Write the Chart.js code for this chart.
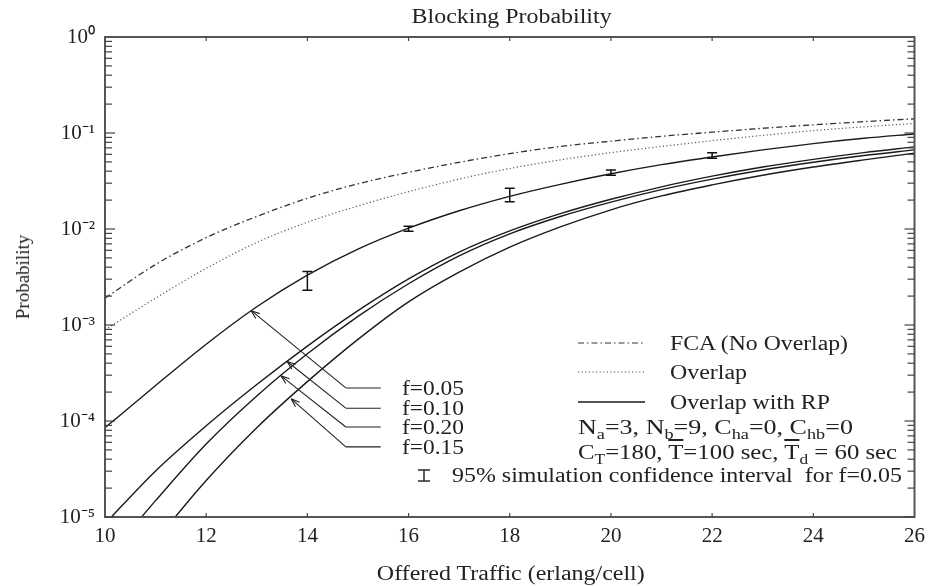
<!DOCTYPE html>
<html>
<head>
<meta charset="utf-8">
<script src="https://cdn.jsdelivr.net/npm/chart.js@4.4.1/dist/chart.umd.min.js"></script>
<style>
  body { margin: 0; background: #fff; }
  #wrap { position: relative; width: 932px; height: 586px; font-family: "Liberation Serif", "Times New Roman", serif; color: #222; }
  .t { position: absolute; white-space: nowrap; font-size: 20px; line-height: 20px; transform-origin: left center; }
  .c { position: absolute; width: 600px; text-align: center; font-size: 20px; line-height: 20px; }
  .c span { display: inline-block; white-space: nowrap; transform-origin: center center; }
  sub { font-size: 14px; line-height: 0; vertical-align: -5px; }
  .ov { text-decoration: overline; }
  #ytitle { position: absolute; left: 23px; top: 277px; font-size: 19px; white-space: nowrap; transform: translate(-50%, -50%) rotate(-90deg); }
</style>
</head>
<body>
<div id="wrap">
  <canvas id="chart" width="932" height="586"></canvas>

  <div class="c" style="left:212px; top:6px;"><span data-w="200">Blocking Probability</span></div>
  <div class="c" style="left:211px; top:563px;"><span data-w="268">Offered Traffic (erlang/cell)</span></div>
  <div id="ytitle">Probability</div>

  <div class="t" style="left:670px; top:333px;" data-w="178">FCA (No Overlap)</div>
  <div class="t" style="left:670px; top:362px;" data-w="77">Overlap</div>
  <div class="t" style="left:670px; top:392px;" data-w="160">Overlap with RP</div>

  <div class="t" style="left:578px; top:417px;" data-w="275">N<sub>a</sub>=3, N<sub>b</sub>=9, C<sub>ha</sub>=0, C<sub>hb</sub>=0</div>
  <div class="t" style="left:578px; top:442px;" data-w="319">C<sub>T</sub>=180, <span class="ov">T</span>=100 sec, <span class="ov">T</span><sub>d</sub> = 60 sec</div>
  <div class="t" style="left:452px; top:465px;" data-w="450">95% simulation confidence interval&nbsp; for f=0.05</div>

  <div class="t" style="left:402px; top:378px;" data-w="62">f=0.05</div>
  <div class="t" style="left:402px; top:398px;" data-w="62">f=0.10</div>
  <div class="t" style="left:402px; top:417px;" data-w="62">f=0.20</div>
  <div class="t" style="left:402px; top:437px;" data-w="62">f=0.15</div>
</div>

<script>
// offered traffic (erlang/cell)
const traffic = [10, 11, 12, 13, 14, 15, 16, 17, 18, 19, 20, 21, 22, 23, 24, 25, 26];

const fcaNoOverlap = [1.905e-3, 4.27e-3, 8.13e-3, 1.35e-2, 2.09e-2, 2.95e-2, 3.89e-2, 4.95e-2, 6.10e-2, 7.24e-2, 8.22e-2, 9.23e-2, 0.102, 0.112, 0.1216, 0.1312, 0.1406];
const overlap = [8.91e-4, 1.905e-3, 3.89e-3, 7.24e-3, 1.175e-2, 1.74e-2, 2.45e-2, 3.31e-2, 4.27e-2, 5.25e-2, 6.24e-2, 7.24e-2, 8.32e-2, 9.44e-2, 0.106, 0.116, 0.126];

// overlap with RP, one curve per f
const rpF005 = [8.5e-5, 2.34e-4, 6.31e-4, 1.55e-3, 3.31e-3, 6.17e-3, 1.02e-2, 1.55e-2, 2.19e-2, 2.92e-2, 3.76e-2, 4.68e-2, 5.62e-2, 6.68e-2, 7.76e-2, 8.81e-2, 9.77e-2];
const rpF010 = [8.51e-6, 3.02e-5, 8.91e-5, 2.40e-4, 6.03e-4, 1.41e-3, 3.02e-3, 5.75e-3, 9.55e-3, 1.445e-2, 2.04e-2, 2.75e-2, 3.55e-2, 4.42e-2, 5.31e-2, 6.24e-2, 7.16e-2];
const rpF020 = [3.55e-6, 1.48e-5, 5.75e-5, 1.82e-4, 5.01e-4, 1.23e-3, 2.69e-3, 5.25e-3, 8.91e-3, 1.35e-2, 1.905e-2, 2.57e-2, 3.31e-2, 4.12e-2, 4.95e-2, 5.82e-2, 6.68e-2];
const rpF015 = [1.20e-6, 5.62e-6, 2.40e-5, 8.51e-5, 2.57e-4, 7.08e-4, 1.74e-3, 3.55e-3, 6.46e-3, 1.05e-2, 1.585e-2, 2.21e-2, 2.88e-2, 3.63e-2, 4.42e-2, 5.25e-2, 6.17e-2];

// 95% simulation confidence intervals for f=0.05
const ciTraffic = [14, 16, 18, 20, 22];
const ciLow = [2.3e-3, 9.5e-3, 1.92e-2, 3.63e-2, 5.45e-2];
const ciHigh = [3.6e-3, 1.07e-2, 2.65e-2, 4.12e-2, 6.24e-2];

// f labels: arrow tips sit on the curves, elbows at the label lines
const arrowTipX = [12.89, 13.6, 13.48, 13.68];
const arrowTipY = [1.41e-3, 4.17e-4, 2.95e-4, 1.70e-4];
const elbowX = 14.76;
const labelLineEndX = 15.45;
const labelY = [2.21e-4, 1.36e-4, 8.66e-5, 5.37e-5];

const xTickValues = [10, 12, 14, 16, 18, 20, 22, 24, 26];
const yTickValues = [1e-5, 1e-4, 1e-3, 1e-2, 1e-1, 1];

const sup = { '0': '\u2070', '1': '\u00b9', '2': '\u00b2', '3': '\u00b3', '4': '\u2074', '5': '\u2075', '-': '\u207b' };
const toSup = s => String(s).split('').map(c => sup[c]).join('');

const pts = arr => traffic.map((t, i) => ({ x: t, y: arr[i] }));

const ciPoints = ciTraffic.flatMap((t, i) => [{ x: t, y: ciLow[i] }, { x: t, y: ciHigh[i] }, { x: t, y: null }]);

const DASHDOT = [6, 3, 1.5, 3];
const DOTTED = [1.2, 2.4];

function solid(data) {
    return { data: pts(data), borderColor: '#1a1a1a', borderWidth: 1.4, pointRadius: 0, cubicInterpolationMode: 'monotone' };
}

const decorations = {
    id: 'decorations',
    afterDatasetsDraw(chart) {
        const { ctx, chartArea: a, scales: { x, y } } = chart;
        const line = (x0, y0, x1, y1) => { ctx.beginPath(); ctx.moveTo(x0, y0); ctx.lineTo(x1, y1); ctx.stroke(); };
        ctx.save();

        // frame
        ctx.strokeStyle = '#555';
        ctx.lineWidth = 2;
        ctx.strokeRect(a.left, a.top, a.right - a.left, a.bottom - a.top);

        // inward tick marks
        ctx.lineWidth = 1.2;
        ctx.strokeStyle = '#444';
        for (let e = -5; e < 0; e++) {
            for (let m = 1; m <= 9; m++) {
                const py = y.getPixelForValue(m * Math.pow(10, e));
                const len = m === 1 ? 10 : 7;
                line(a.left, py, a.left + len, py);
                line(a.right, py, a.right - len, py);
            }
        }
        xTickValues.slice(1, -1).forEach(v => {
            const px = x.getPixelForValue(v);
            line(px, a.bottom, px, a.bottom - 4);
            line(px, a.top, px, a.top + 4);
        });

        // f label lines and arrows
        ctx.strokeStyle = '#222';
        ctx.lineWidth = 1.1;
        const ex = x.getPixelForValue(elbowX);
        const lx = x.getPixelForValue(labelLineEndX);
        arrowTipX.forEach((tx, i) => {
            const ey = y.getPixelForValue(labelY[i]);
            const px = x.getPixelForValue(tx);
            const py = y.getPixelForValue(arrowTipY[i]);
            line(lx, ey, ex, ey);
            line(ex, ey, px, py);
            const ang = Math.atan2(ey - py, ex - px);
            const h = 9;
            line(px, py, px + h * Math.cos(ang + 0.35), py + h * Math.sin(ang + 0.35));
            line(px, py, px + h * Math.cos(ang - 0.35), py + h * Math.sin(ang - 0.35));
        });

        // legend samples
        ctx.lineWidth = 1.2;
        ctx.strokeStyle = '#333';
        ctx.setLineDash(DASHDOT);
        line(578, 343, 645, 343);
        ctx.strokeStyle = '#555';
        ctx.setLineDash(DOTTED);
        line(578, 372, 645, 372);
        ctx.setLineDash([]);
        ctx.strokeStyle = '#1a1a1a';
        ctx.lineWidth = 1.4;
        line(578, 402, 645, 402);

        // confidence interval symbol
        ctx.lineWidth = 1.4;
        line(424, 470, 424, 481);
        line(418, 470, 430, 470);
        line(418, 481, 430, 481);

        ctx.restore();
    }
};

Chart.defaults.font.family = '"Liberation Serif", "Times New Roman", serif';
Chart.defaults.color = '#222';

new Chart(document.getElementById('chart'), {
    type: 'line',
    data: {
        datasets: [
            { data: pts(fcaNoOverlap), borderColor: '#333', borderWidth: 1.3, borderDash: DASHDOT, pointRadius: 0, cubicInterpolationMode: 'monotone' },
            { data: pts(overlap), borderColor: '#555', borderWidth: 1.2, borderDash: DOTTED, pointRadius: 0, cubicInterpolationMode: 'monotone' },
            solid(rpF005),
            solid(rpF010),
            solid(rpF020),
            solid(rpF015),
            {
                data: ciPoints, borderColor: '#111', borderWidth: 1.5, tension: 0, spanGaps: false,
                pointStyle: 'line', pointRadius: 5, pointBorderWidth: 1.5, pointBorderColor: '#111'
            }
        ]
    },
    options: {
        responsive: false,
        animation: false,
        layout: { padding: { top: 37, right: 14, left: 0, bottom: 0 } },
        plugins: { legend: { display: false }, tooltip: { enabled: false }, title: { display: false } },
        scales: {
            x: {
                type: 'linear', min: 10, max: 26,
                grid: { display: false, drawTicks: false },
                border: { display: false },
                afterBuildTicks: s => { s.ticks = xTickValues.map(v => ({ value: v })); },
                afterFit: s => { s.height = 69; },
                ticks: { padding: 7, font: { size: 21 }, color: '#222', maxRotation: 0 }
            },
            y: {
                type: 'logarithmic', min: 1e-5, max: 1,
                grid: { display: false, drawTicks: false },
                border: { display: false },
                afterBuildTicks: s => { s.ticks = yTickValues.map(v => ({ value: v })); },
                afterFit: s => { s.width = 105; },
                ticks: {
                    padding: 10, font: { size: 21 }, color: '#222',
                    callback: v => '10' + toSup(Math.round(Math.log10(v)))
                }
            }
        }
    },
    plugins: [decorations]
});

// the reference text is a bit wider than the font, stretch each piece to its measured width
document.fonts.ready.then(() => {
    document.querySelectorAll('[data-w]').forEach(el => {
        const nat = el.getBoundingClientRect().width;
        el.style.transform = 'scaleX(' + (parseFloat(el.dataset.w) / nat).toFixed(3) + ')';
    });
});
</script>
</body>
</html>
